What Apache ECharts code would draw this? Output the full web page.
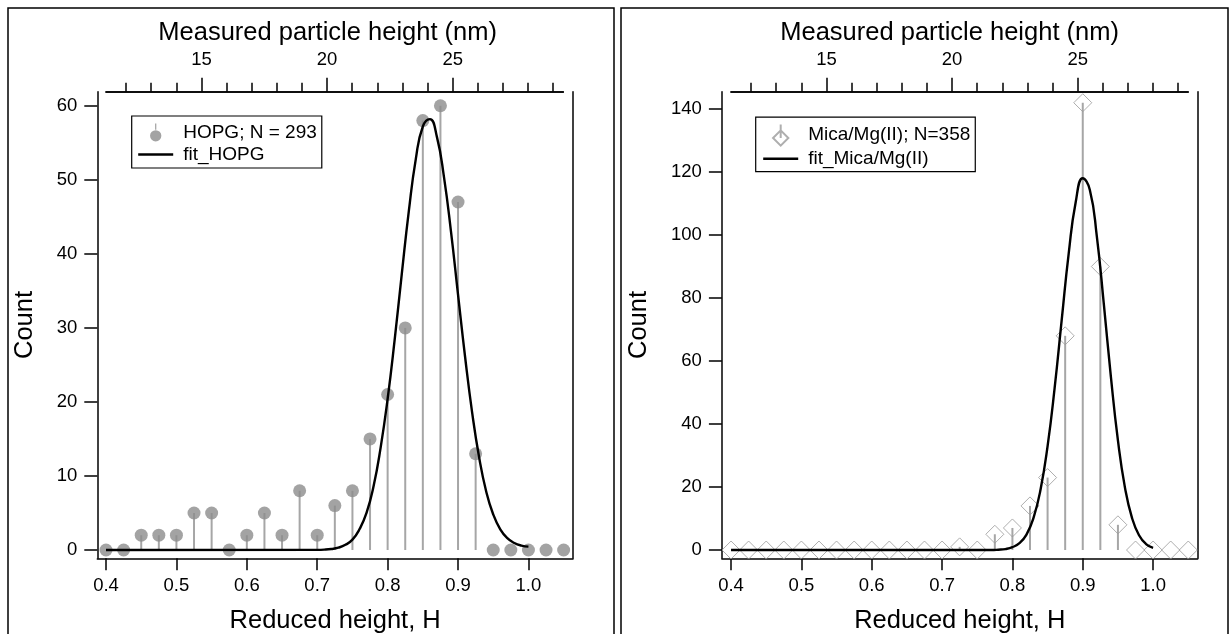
<!DOCTYPE html>
<html>
<head>
<meta charset="utf-8">
<script src="https://cdn.jsdelivr.net/npm/echarts@6.0.0/dist/echarts.min.js"></script>
<style>
html,body{margin:0;padding:0;background:#fff;}
#c{width:1229px;height:634px;}
</style>
</head>
<body>
<div id="c"></div>
<script>
// ---------------- DATA ----------------
const heights = [0.4, 0.425, 0.45, 0.475, 0.5, 0.525, 0.55, 0.575, 0.6, 0.625, 0.65, 0.675, 0.7, 0.725, 0.75, 0.775, 0.8, 0.825, 0.85, 0.875, 0.9, 0.925, 0.95, 0.975, 1.0, 1.025, 1.05];
const hopgCounts = [0, 0, 2, 2, 2, 5, 5, 0, 2, 5, 2, 8, 2, 6, 8, 15, 21, 30, 58, 60, 47, 13, 0, 0, 0, 0, 0];
const micaCounts = [0, 0, 0, 0, 0, 0, 0, 0, 0, 0, 0, 0, 0, 1, 0, 5, 7, 14, 23, 68, 142, 90, 8, 0, 0, 0, 0];

const hopgFitH = [0.40, 0.70, 0.71, 0.72, 0.73, 0.74, 0.75, 0.76, 0.77, 0.78, 0.79, 0.80, 0.81, 0.82, 0.83, 0.84, 0.85, 0.86, 0.87, 0.88, 0.89, 0.90, 0.91, 0.92, 0.93, 0.94, 0.95, 0.96, 0.97, 0.98, 0.99, 1.00];
const hopgFitCount = [0, 0.02, 0.05, 0.14, 0.32, 0.7, 1.4, 2.8, 5.0, 8.6, 13.8, 20.4, 28.4, 37.2, 45.7, 52.8, 57.2, 58.2, 55.8, 50.4, 43.0, 34.5, 26.1, 18.6, 12.5, 7.9, 4.8, 2.8, 1.6, 0.95, 0.6, 0.45];

const micaFitH = [0.40, 0.77, 0.78, 0.79, 0.80, 0.81, 0.82, 0.83, 0.84, 0.85, 0.86, 0.87, 0.88, 0.89, 0.90, 0.91, 0.92, 0.93, 0.94, 0.95, 0.96, 0.97, 0.98, 0.99, 1.00];
const micaFitCount = [0, 0, 0.1, 0.3, 0.9, 2.2, 4.9, 10.2, 19.2, 33.0, 51.4, 72.9, 94.1, 110.5, 118.0, 114.4, 99.6, 78.0, 55.0, 34.8, 19.8, 10.2, 4.7, 1.9, 0.7];

const bottomTicks = [0.4, 0.5, 0.6, 0.7, 0.8, 0.9, 1.0];
const topMajorTicks = [15, 20, 25];
const topMinorTicks = [12, 13, 14, 16, 17, 18, 19, 21, 22, 23, 24, 26, 27, 28, 29];
const hopgCountTicks = [0, 10, 20, 30, 40, 50, 60];
const micaCountTicks = [0, 20, 40, 60, 80, 100, 120, 140];

const hopgName = 'HOPG; N = 293';
const hopgFitName = 'fit_HOPG';
const micaName = 'Mica/Mg(II); N=358';
const micaFitName = 'fit_Mica/Mg(II)';

// ---------------- STYLE / LAYOUT ----------------
const FONT = 'Liberation Sans, Arial, Helvetica, sans-serif';
const TICK_FS = 18.5;
const TITLE_FS = 25.5;
const LEG_FS = 19;
const AX_W = 1.5;
const LINE_ICON = 'path://M0,0 L35,0 L35,2.4 L0,2.4 Z';

function zip(a, b) { return a.map((v, i) => [v, b[i]]); }

function stemRender(color) {
  return function (params, api) {
    const x = api.value(0), y = api.value(1);
    const p0 = api.coord([x, 0]);
    const p1 = api.coord([x, y]);
    return {
      type: 'line',
      shape: { x1: p0[0], y1: p0[1], x2: p1[0], y2: p1[1] },
      style: { stroke: color, lineWidth: 2 }
    };
  };
}

const option = {
  animation: false,
  backgroundColor: '#fff',
  textStyle: { fontFamily: FONT, color: '#000' },
  grid: [], xAxis: [], yAxis: [], series: [], legend: [], graphic: []
};

function addPanel(cfg) {
  const g0 = option.grid.length;
  option.grid.push({ left: cfg.axL, top: cfg.top, width: cfg.axR - cfg.axL, height: cfg.bottom - cfg.top, outerBoundsMode: 'none', containLabel: false });
  option.grid.push({ left: cfg.topL, top: cfg.top, width: cfg.topR - cfg.topL, height: cfg.bottom - cfg.top, outerBoundsMode: 'none', containLabel: false });
  const axLine = { show: true, onZero: false, lineStyle: { color: '#000', width: AX_W } };
  const x0 = option.xAxis.length;
  option.xAxis.push({
    type: 'value', gridIndex: g0, position: 'bottom', min: cfg.xMin, max: cfg.xMax,
    axisLine: axLine,
    axisTick: { show: true, inside: false, length: 12, customValues: bottomTicks, lineStyle: { color: '#000', width: AX_W } },
    axisLabel: { show: true, customValues: bottomTicks, margin: 18, fontSize: TICK_FS, color: '#000', fontFamily: FONT, formatter: v => v.toFixed(1), showMinLabel: true, showMaxLabel: true },
    splitLine: { show: false },
    name: 'Reduced height, H', nameLocation: 'middle', nameGap: 50,
    nameTextStyle: { fontSize: TITLE_FS, color: '#000', fontFamily: FONT }
  });
  option.xAxis.push({
    type: 'value', gridIndex: g0 + 1, position: 'top', min: cfg.nmMin, max: cfg.nmMax,
    axisLine: axLine,
    axisTick: { show: true, inside: false, length: 14, customValues: topMajorTicks, lineStyle: { color: '#000', width: AX_W } },
    axisLabel: { show: true, customValues: topMajorTicks, margin: 22, fontSize: TICK_FS, color: '#000', fontFamily: FONT, showMinLabel: true, showMaxLabel: true },
    splitLine: { show: false },
    name: 'Measured particle height (nm)', nameLocation: 'middle', nameGap: 43,
    nameTextStyle: { fontSize: TITLE_FS, color: '#000', fontFamily: FONT, padding: [0, cfg.topTitleShift, 0, 0] }
  });
  option.xAxis.push({
    type: 'value', gridIndex: g0 + 1, position: 'top', min: cfg.nmMin, max: cfg.nmMax,
    axisLine: axLine,
    axisTick: { show: true, inside: false, length: 9, customValues: topMinorTicks, lineStyle: { color: '#000', width: AX_W } },
    axisLabel: { show: false },
    splitLine: { show: false }
  });
  const y0 = option.yAxis.length;
  option.yAxis.push({
    type: 'value', gridIndex: g0, position: 'left', min: cfg.yMin, max: cfg.yMax,
    axisLine: axLine,
    axisTick: { show: true, inside: false, length: 13, customValues: cfg.yTicks, lineStyle: { color: '#000', width: AX_W } },
    axisLabel: { show: true, customValues: cfg.yTicks, margin: 20, fontSize: TICK_FS, color: '#000', fontFamily: FONT, showMinLabel: true, showMaxLabel: true },
    splitLine: { show: false },
    name: 'Count', nameLocation: 'middle', nameGap: cfg.yNameGap,
    nameTextStyle: { fontSize: TITLE_FS, color: '#000', fontFamily: FONT }
  });
  option.yAxis.push({
    type: 'value', gridIndex: g0, position: 'right', min: cfg.yMin, max: cfg.yMax,
    axisLine: axLine, axisTick: { show: false }, axisLabel: { show: false }, splitLine: { show: false }
  });
  option.yAxis.push({ type: 'value', gridIndex: g0 + 1, show: false, min: 0, max: 1 });

  const pts = zip(heights, cfg.counts);
  option.series.push({
    type: 'custom', name: cfg.name + ' stems', xAxisIndex: x0, yAxisIndex: y0,
    renderItem: stemRender(cfg.stemColor), data: pts, z: 2, silent: true,
    encode: { x: 0, y: 1 }
  });
  option.series.push({
    type: 'scatter', name: cfg.name, xAxisIndex: x0, yAxisIndex: y0,
    data: pts, symbol: cfg.symbol, symbolSize: cfg.symbolSize, itemStyle: cfg.markerStyle, z: 3
  });
  option.series.push({
    type: 'line', name: cfg.fitName, xAxisIndex: x0, yAxisIndex: y0,
    data: zip(cfg.fitH, cfg.fitCount), symbol: 'none', showSymbol: false,
    smooth: 0.5,
    lineStyle: { color: '#000', width: 2.4 }, itemStyle: { color: '#000' }, z: 4
  });
  option.legend.push({
    left: cfg.legL, top: cfg.legT, orient: 'vertical', selectedMode: false,
    data: [{ name: cfg.name, icon: cfg.legIcon }, { name: cfg.fitName, icon: LINE_ICON, itemStyle: { color: '#000', borderWidth: 0 } }],
    itemWidth: 35, itemHeight: cfg.legItemH, itemGap: cfg.legGap,
    borderColor: '#000', borderWidth: 1.2, padding: cfg.legPad, backgroundColor: '#fff',
    textStyle: { fontSize: LEG_FS, color: '#000', fontFamily: FONT, lineHeight: 19, padding: [0, 0, 0, 5] }
  });
  option.graphic.push({
    type: 'rect', shape: { x: cfg.frameL, y: 8, width: cfg.frameR - cfg.frameL, height: 700 },
    style: { fill: 'none', stroke: '#000', lineWidth: 1.5 }, silent: true, z: -1
  });
}

addPanel({
  axL: 97.3, axR: 573, topL: 106, topR: 563.3, top: 91.7, bottom: 558.3,
  xMin: 0.3876, xMax: 1.0633, nmMin: 11.2, nmMax: 29.4,
  yMin: -1.12, yMax: 61.9, yTicks: hopgCountTicks, yNameGap: 59, topTitleShift: 14,
  counts: hopgCounts, name: hopgName, fitName: hopgFitName, fitH: hopgFitH, fitCount: hopgFitCount,
  stemColor: '#a6a6a6', symbol: 'circle', symbolSize: 13, markerStyle: { color: '#8c8c8c' },
  legL: 131.7, legT: 116, legItemH: 18, legGap: 3, legPad: [7, 5, 4, 6.5],
  legIcon: 'path://M5.4,0 L6.6,0 L6.6,6 L5.4,6 Z M0.5,12 A5.5,5.5 0 1,1 11.5,12 A5.5,5.5 0 1,1 0.5,12 Z',
  frameL: 8, frameR: 614
});

addPanel({
  axL: 721.9, axR: 1197.7, topL: 731, topR: 1188.2, top: 91.7, bottom: 558.3,
  xMin: 0.387, xMax: 1.0634, nmMin: 11.2, nmMax: 29.4,
  yMin: -2.63, yMax: 145.5, yTicks: micaCountTicks, yNameGap: 70, topTitleShift: 20,
  counts: micaCounts, name: micaName, fitName: micaFitName, fitH: micaFitH, fitCount: micaFitCount,
  stemColor: '#a6a6a6', symbol: 'diamond', symbolSize: 18,
  markerStyle: { color: 'rgba(255,255,255,0)', borderColor: '#9a9a9a', borderWidth: 1 },
  legL: 755.7, legT: 117.1, legItemH: 21, legGap: 2.6, legPad: [6.5, 5, 3.5, 7.5],
  legIcon: 'path://M9,0 L9,14 M1,14 L9,6 L17,14 L9,22 Z',
  frameL: 621, frameR: 1228
});

const chart = echarts.init(document.getElementById('c'), null, { renderer: 'canvas', width: 1229, height: 634 });
chart.setOption(option);
</script>
</body>
</html>
